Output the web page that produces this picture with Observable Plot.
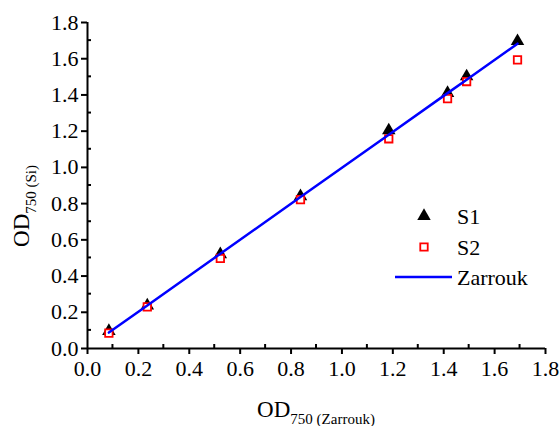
<!DOCTYPE html>
<html><head><meta charset="utf-8">
<script src="https://cdn.jsdelivr.net/npm/d3@7"></script>
<script src="https://cdn.jsdelivr.net/npm/@observablehq/plot@0.6"></script>
<style>body{margin:0;background:#fff} svg{display:block}</style>
</head><body><div id="chart"></div>
<script>
const xVals   = [0.084, 0.235, 0.522, 0.837, 1.184, 1.415, 1.490, 1.690];
const s1Vals  = [0.096, 0.237, 0.520, 0.840, 1.204, 1.410, 1.502, 1.697];
const s2Vals  = [0.085, 0.230, 0.497, 0.822, 1.158, 1.380, 1.474, 1.594];
const zarVals = [0.088, 0.238, 0.523, 0.836, 1.180, 1.410, 1.484, 1.683];
const majorTicks = [0, 0.2, 0.4, 0.6, 0.8, 1.0, 1.2, 1.4, 1.6, 1.8];
const minorTicks = [0.1, 0.3, 0.5, 0.7, 0.9, 1.1, 1.3, 1.5, 1.7];
const legendItems = ["S1", "S2", "Zarrouk"];

const points = xVals.map((x, i) => ({x, s1: s1Vals[i], s2: s2Vals[i], z: zarVals[i]}));
const font = "Liberation Serif";

const plot = Plot.plot({
  width: 560, height: 426,
  marginLeft: 87, marginRight: 15, marginTop: 22, marginBottom: 78,
  x: {domain: [0, 1.8]},
  y: {domain: [0, 1.8]},
  style: {fontFamily: font, fontSize: "22px", color: "#000", background: "#fff"},
  marks: [
    Plot.axisX({ticks: majorTicks, tickSize: 6, tickPadding: 6, tickFormat: d3.format(".1f"), label: null, strokeWidth: 2, fontSize: 22}),
    Plot.axisY({ticks: majorTicks, tickSize: 6, tickPadding: 3, tickFormat: d3.format(".1f"), label: null, strokeWidth: 2, fontSize: 22}),
    Plot.ruleY([0], {strokeWidth: 2, stroke: "#000"}),
    Plot.ruleX([0], {strokeWidth: 2, stroke: "#000"}),
    Plot.dot(points, {x: "x", y: "s1", symbol: "triangle", fill: "#000", r: 5}),
    Plot.dot(points, {x: "x", y: "s2", symbol: "square", stroke: "#ff0000", fill: "#fff", strokeWidth: 1.8, r: 4.2}),
    Plot.line(points, {x: "x", y: "z", stroke: "#0000ff", strokeWidth: 2.5})
  ]
});
document.getElementById("chart").appendChild(plot);

const sx = plot.scale("x"), sy = plot.scale("y");
const svg = d3.select(plot);
const y0 = sy.apply(0), x0 = sx.apply(0);
// minor ticks (inward)
svg.append("g").selectAll("line").data(minorTicks).join("line")
  .attr("x1", d => sx.apply(d)).attr("x2", d => sx.apply(d))
  .attr("y1", y0).attr("y2", y0 - 4).attr("stroke", "#000").attr("stroke-width", 2);
svg.append("g").selectAll("line").data(minorTicks).join("line")
  .attr("y1", d => sy.apply(d)).attr("y2", d => sy.apply(d))
  .attr("x1", x0).attr("x2", x0 + 4).attr("stroke", "#000").attr("stroke-width", 2);

// axis titles
const xt = svg.append("text").attr("x", 316).attr("y", 417).attr("text-anchor", "middle")
  .attr("font-size", 23).attr("fill", "#000");
xt.append("tspan").text("OD");
xt.append("tspan").attr("font-size", 15).attr("dy", 7).text("750 (Zarrouk)");

const yt = svg.append("text").attr("transform", "translate(29,206) rotate(-90)").attr("text-anchor", "middle")
  .attr("font-size", 23).attr("fill", "#000");
yt.append("tspan").text("OD");
yt.append("tspan").attr("font-size", 15).attr("dy", 7).text("750 (Si)");

// legend
const lg = svg.append("g").attr("font-size", 22).attr("fill", "#000").attr("text-anchor", "start");
lg.append("path").attr("d", d3.symbol(d3.symbolTriangle, 5 * 5 * Math.PI)()).attr("transform", "translate(424,216)").attr("fill", "#000");
lg.append("path").attr("d", d3.symbol(d3.symbolSquare, 4.2 * 4.2 * Math.PI)()).attr("transform", "translate(424,247)")
  .attr("fill", "#fff").attr("stroke", "#ff0000").attr("stroke-width", 1.8);
lg.append("line").attr("x1", 395).attr("x2", 452).attr("y1", 277).attr("y2", 277).attr("stroke", "#0000ff").attr("stroke-width", 2.5);
lg.append("text").attr("x", 457).attr("y", 224).attr("text-anchor", "start").text(legendItems[0]);
lg.append("text").attr("x", 457).attr("y", 255).attr("text-anchor", "start").text(legendItems[1]);
lg.append("text").attr("x", 457).attr("y", 285).attr("text-anchor", "start").text(legendItems[2]);

svg.selectAll("text").attr("font-family", font).style("font-family", font);
</script>
</body></html>
